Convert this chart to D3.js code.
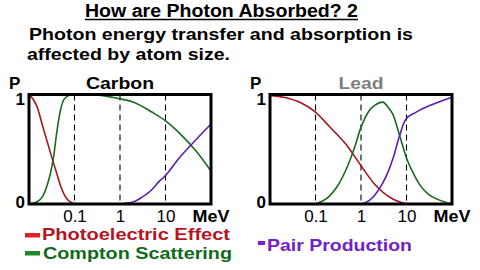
<!DOCTYPE html>
<html>
<head>
<meta charset="utf-8">
<script src="https://cdn.jsdelivr.net/npm/d3@7"></script>
<style>
  body { margin: 0; background: #fff; }
  svg { display: block; font-family: "Liberation Sans", Arial, sans-serif; }
</style>
</head>
<body>
<svg id="chart" width="480" height="270"></svg>
<script>
// tick values / labels
const xTickValues = [0.1, 1, 10];
const xTickLabels = ['0.1', '1', '10'];
const yTickValues = [0, 1];

// Carbon curves (energy in MeV, probability P)
const carbonPhotoE = [0.01, 0.015, 0.02, 0.03, 0.04, 0.05, 0.07, 0.1];
const carbonPhotoP = [1, 0.89, 0.71, 0.46, 0.29, 0.16, 0.04, 0];
const carbonComptonE = [0.01, 0.015, 0.02, 0.025, 0.03, 0.035, 0.04, 0.05, 0.06, 0.08, 0.1, 0.2, 0.5, 1, 2, 5, 10, 20, 50, 100];
const carbonComptonP = [0, 0.02, 0.07, 0.17, 0.29, 0.44, 0.63, 0.87, 0.96, 0.995, 1, 1, 0.985, 0.96, 0.93, 0.84, 0.76, 0.65, 0.47, 0.30];
const carbonPairE = [1, 1.5, 2, 3, 5, 7, 10, 20, 50, 100];
const carbonPairP = [0, 0.01, 0.02, 0.06, 0.13, 0.2, 0.26, 0.42, 0.6, 0.73];

// Lead curves
const leadPhotoE = [0.01, 0.02, 0.05, 0.1, 0.2, 0.5, 1, 2, 5, 10];
const leadPhotoP = [0.99, 0.975, 0.92, 0.84, 0.71, 0.53, 0.35, 0.18, 0.045, 0];
const leadComptonE = [0.1, 0.2, 0.3, 0.5, 0.7, 1, 1.5, 2, 3, 4, 5, 7, 10, 15, 20, 30, 50, 100];
const leadComptonP = [0, 0.07, 0.16, 0.34, 0.5, 0.7, 0.85, 0.9, 0.93, 0.88, 0.82, 0.63, 0.42, 0.26, 0.17, 0.09, 0.04, 0];
const leadPairE = [1, 1.5, 2, 3, 4, 5, 7, 9, 10, 15, 20, 50, 100];
const leadPairP = [0, 0.03, 0.08, 0.19, 0.3, 0.41, 0.62, 0.75, 0.78, 0.83, 0.86, 0.93, 0.975];

const colors = {
  photo: '#a3161f', compton: '#1b6a21', pair: '#5b1fae',
  photoKey: '#e0212b', comptonKey: '#1c8a2c', pairKey: '#7a22d6',
  photoText: '#b8141f', comptonText: '#0f6a1a', pairText: '#7420c8'
};

const svg = d3.select('#chart');
const font = '"Liberation Sans", Arial, sans-serif';

function addText(txt, x, y, opts) {
  const t = svg.append('text')
    .attr('x', x).attr('y', y)
    .attr('font-size', opts.size)
    .attr('font-weight', opts.weight || 'bold')
    .attr('fill', opts.color || '#000')
    .attr('text-anchor', opts.anchor || 'start')
    .text(txt);
  if (opts.len) t.attr('textLength', opts.len).attr('lengthAdjust', 'spacingAndGlyphs');
  return t;
}

// heading
addText('How are Photon Absorbed? 2', 85, 17, { size: 18, len: 273 });
svg.append('line').attr('x1', 85).attr('x2', 358).attr('y1', 19.5).attr('y2', 19.5)
  .attr('stroke', '#000').attr('stroke-width', 1.5);
addText('Photon energy transfer and absorption is', 29, 39.5, { size: 17, len: 384 });
addText('affected by atom size.', 27, 59.5, { size: 17, len: 203 });

function drawPanel(x0, x1, title, titleColor, titleLen, series) {
  const x = d3.scaleLog().domain([0.01, 100]).range([x0, x1]);
  const y = d3.scaleLinear().domain([0, 1]).range([204, 94.5]);
  const g = svg.append('g');

  // dashed decade lines
  g.selectAll('line.grid')
    .data(xTickValues)
    .enter().append('line')
    .attr('x1', d => x(d)).attr('x2', d => x(d))
    .attr('y1', y(1)).attr('y2', y(0))
    .attr('stroke', '#000').attr('stroke-width', 1.1)
    .attr('stroke-dasharray', '6,4');

  const line = d3.line()
    .x(d => x(d[0]))
    .y(d => y(d[1]))
    .curve(d3.curveMonotoneX);

  series.forEach(s => {
    g.append('path')
      .datum(d3.zip(s.e, s.p))
      .attr('d', line)
      .attr('fill', 'none')
      .attr('stroke', s.color)
      .attr('stroke-width', 1.6);
  });

  // frame
  g.append('rect')
    .attr('x', x0).attr('y', y(1))
    .attr('width', x1 - x0).attr('height', y(0) - y(1))
    .attr('fill', 'none').attr('stroke', '#000').attr('stroke-width', 3);

  // x tick labels
  const xAxis = g.append('g')
    .attr('transform', `translate(0, ${y(0)})`)
    .call(d3.axisBottom(x).tickValues(xTickValues)
      .tickFormat((d, i) => xTickLabels[i]).tickSize(0).tickPadding(0));
  xAxis.select('.domain').remove();
  xAxis.selectAll('text')
    .attr('dy', null).attr('y', 17.5)
    .attr('font-family', font).attr('font-size', 17).attr('fill', '#000');

  // y tick labels
  const yAxis = g.append('g')
    .attr('transform', `translate(${x0 - 4}, 0)`)
    .call(d3.axisLeft(y).tickValues(yTickValues).tickFormat(d3.format('d')).tickSize(0).tickPadding(0));
  yAxis.select('.domain').remove();
  yAxis.selectAll('text')
    .attr('dy', null)
    .attr('y', d => d === 1 ? 9.5 : 3)
    .attr('font-family', font).attr('font-size', 17).attr('font-weight', 'bold').attr('fill', '#000');

  addText('P', x0 - 20, 88.5, { size: 17 });
  addText('MeV', x1, 221.5, { size: 17, anchor: 'middle', len: 37 });
  addText(title, (x0 + x1) / 2, 88.5, { size: 17, anchor: 'middle', color: titleColor, len: titleLen });
}

drawPanel(29, 211, 'Carbon', '#000', 68, [
  { e: carbonPhotoE, p: carbonPhotoP, color: colors.photo },
  { e: carbonComptonE, p: carbonComptonP, color: colors.compton },
  { e: carbonPairE, p: carbonPairP, color: colors.pair }
]);
drawPanel(270, 452, 'Lead', '#808080', 45, [
  { e: leadPhotoE, p: leadPhotoP, color: colors.photo },
  { e: leadComptonE, p: leadComptonP, color: colors.compton },
  { e: leadPairE, p: leadPairP, color: colors.pair }
]);

// legend
svg.append('rect').attr('x', 25).attr('y', 233).attr('width', 15).attr('height', 4.5).attr('fill', colors.photoKey);
addText('Photoelectric Effect', 42, 239.5, { size: 17, color: colors.photoText, len: 188 });
svg.append('rect').attr('x', 25).attr('y', 251).attr('width', 15).attr('height', 4.5).attr('fill', colors.comptonKey);
addText('Compton Scattering', 43, 258.5, { size: 17, color: colors.comptonText, len: 189 });
svg.append('rect').attr('x', 258).attr('y', 241).attr('width', 7).attr('height', 4).attr('fill', colors.pairKey);
addText('Pair Production', 267, 251, { size: 17, color: colors.pairText, len: 145 });
</script>
</body>
</html>
